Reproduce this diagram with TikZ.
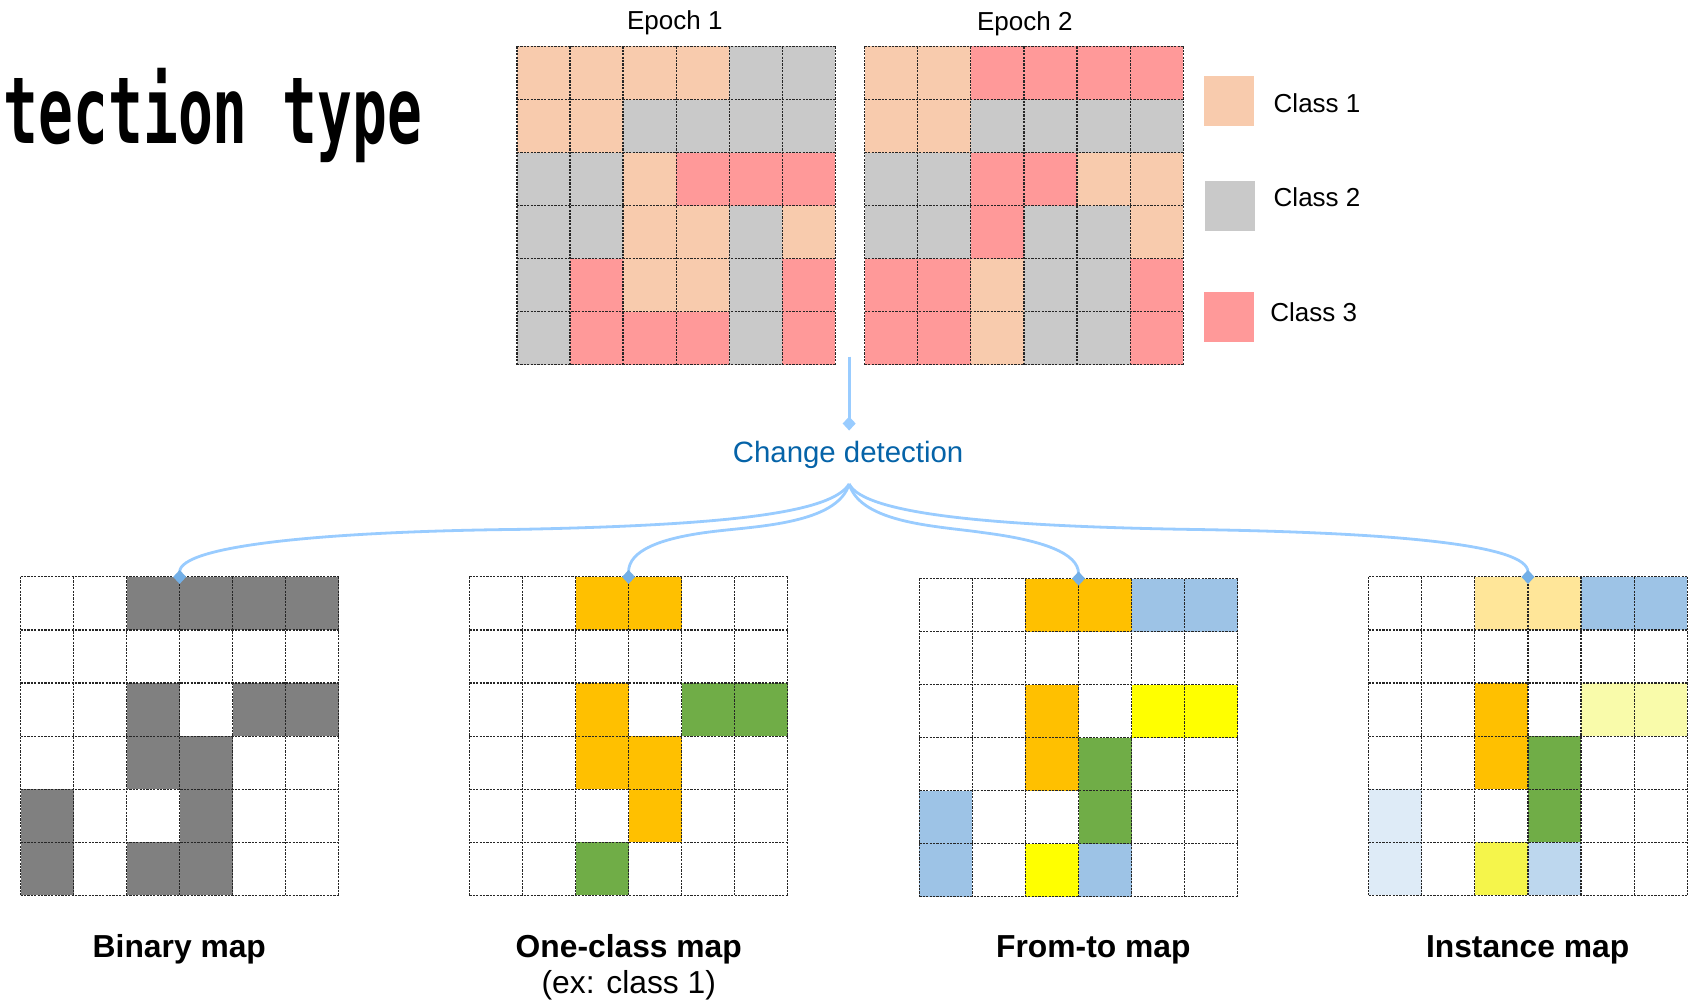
\documentclass[tikz,border=0pt]{standalone}
\usepackage{fontspec}
\usepackage{graphicx}
\setmainfont{Liberation Sans}
\newfontfamily\titlefont{DejaVu Sans Mono}
\usetikzlibrary{arrows.meta,calc}
\definecolor{cP}{RGB}{248,203,173}
\definecolor{cG}{RGB}{201,201,201}
\definecolor{cR}{RGB}{255,153,153}
\definecolor{cD}{RGB}{128,128,128}
\definecolor{cO}{RGB}{255,192,0}
\definecolor{cN}{RGB}{112,173,71}
\definecolor{cB}{RGB}{157,195,230}
\definecolor{cY}{RGB}{255,255,0}
\definecolor{cW}{RGB}{255,255,255}
\definecolor{cLO}{RGB}{255,230,153}
\definecolor{cLY}{RGB}{249,251,170}
\definecolor{cPB}{RGB}{222,235,247}
\definecolor{cYY}{RGB}{245,245,75}
\definecolor{cMB}{RGB}{189,215,238}
\definecolor{lineblue}{RGB}{153,204,255}
\definecolor{tipblue}{RGB}{115,175,230}
\definecolor{cdblue}{RGB}{5,99,168}
\def\cellsz{49.1}
\newcommand{\cellgrid}[4]{%
  \foreach \rowlist [count=\r from 0] in {#4} {
    \foreach \cc [count=\k from 0] in \rowlist {
      \fill[\cc] ({#2+\k*\cellsz},{#3+\r*\cellsz}) rectangle ++(\cellsz,\cellsz);
    }
  }
  \foreach \i in {0,...,6} {
    \draw[gl] ({#2+\i*\cellsz},#3) -- ++(0,{6*\cellsz});
    \draw[gl] (#2,{#3+\i*\cellsz}) -- ++({6*\cellsz},0);
  }
  \coordinate (#1) at ({#2+3*\cellsz},#3);
}
\tikzset{
  gl/.style={draw=black!85, line width=0.55pt, dash pattern=on 1.1pt off 0.6pt},
  conn/.style={draw=lineblue, line width=1.4pt},
  conntip/.style={-{Diamond[length=7pt,width=6.5pt,color=tipblue,fill=tipblue]}},
  small/.style={font=\fontsize{13}{15}\selectfont, inner sep=0},
  maplbl/.style={font=\bfseries\fontsize{15.9}{18}\selectfont, inner sep=0, anchor=base},
  legbox/.style={inner sep=0, minimum width=46.3*0.5402pt, minimum height=46.3*0.5402pt, anchor=north west}
}
\begin{document}
\begin{tikzpicture}[x=0.5402pt, y=-0.5402pt]
\useasboundingbox[fill=white] (0,0) rectangle (1568,927.5);

% title
\node[anchor=base east, inner sep=0] (title) at (391,133)
  {\scalebox{0.625}[1]{\titlefont\bfseries\fontsize{46.3}{50}\selectfont tection type}};

% epoch grids
\cellgrid{e1}{478.5}{43}{{cP,cP,cP,cP,cG,cG},{cP,cP,cG,cG,cG,cG},{cG,cG,cP,cR,cR,cR},{cG,cG,cP,cP,cG,cP},{cG,cR,cP,cP,cG,cR},{cG,cR,cR,cR,cG,cR}}
\cellgrid{e2}{800.5}{43}{{cP,cP,cR,cR,cR,cR},{cP,cP,cG,cG,cG,cG},{cG,cG,cR,cR,cP,cP},{cG,cG,cR,cG,cG,cP},{cR,cR,cP,cG,cG,cR},{cR,cR,cP,cG,cG,cR}}
\node[small, anchor=base] (ep1) at (624.6,27.2) {Epoch 1};
\node[small, anchor=base] (ep2) at (948.6,28.6) {Epoch 2};

% legend
\node[legbox, fill=cP] (lg1) at (1114.4,70) {};
\node[legbox, fill=cG] (lg2) at (1115.3,167.2) {};
\node[legbox, fill=cR] (lg3) at (1114.4,270) {};
\node[small, anchor=base west] (lt1) at (1178.6,103.9) {Class 1};
\node[small, anchor=base west] (lt2) at (1178.6,191.3) {Class 2};
\node[small, anchor=base west] (lt3) at (1175.5,297.7) {Class 3};

% change detection
\coordinate (vtop) at (786,330);
\coordinate (vend) at (786,398.5);
\draw[conn, -{Diamond[length=7pt,width=6.5pt,color=lineblue,fill=lineblue]}] (vtop) -- (vend);
\node[inner sep=0, anchor=base, text=cdblue, font=\fontsize{14.7}{17}\selectfont] (cd) at (785,428) {Change detection};
\coordinate (fork) at (786,448);

% result grids
\cellgrid{bin}{19}{534}{{cW,cW,cD,cD,cD,cD},{cW,cW,cW,cW,cW,cW},{cW,cW,cD,cW,cD,cD},{cW,cW,cD,cD,cW,cW},{cD,cW,cW,cD,cW,cW},{cD,cW,cD,cD,cW,cW}}
\cellgrid{one}{434.5}{534}{{cW,cW,cO,cO,cW,cW},{cW,cW,cW,cW,cW,cW},{cW,cW,cO,cW,cN,cN},{cW,cW,cO,cO,cW,cW},{cW,cW,cW,cO,cW,cW},{cW,cW,cN,cW,cW,cW}}
\cellgrid{ft}{851}{535.5}{{cW,cW,cO,cO,cB,cB},{cW,cW,cW,cW,cW,cW},{cW,cW,cO,cW,cY,cY},{cW,cW,cO,cN,cW,cW},{cB,cW,cW,cN,cW,cW},{cB,cW,cY,cB,cW,cW}}
\cellgrid{ins}{1267}{534}{{cW,cW,cLO,cLO,cB,cB},{cW,cW,cW,cW,cW,cW},{cW,cW,cO,cW,cLY,cLY},{cW,cW,cO,cN,cW,cW},{cPB,cW,cW,cN,cW,cW},{cPB,cW,cYY,cMB,cW,cW}}

% connectors
\draw[conn, conntip] (fork) .. controls (770,474) and (680,486) .. (480,490)
   .. controls (300,492) and (166.3,505) .. ($(bin)+(0,6.5)$);
\draw[conn, conntip] (fork) .. controls (775,485) and (700,487) .. (660,492)
   .. controls (610,498) and (581.8,510) .. ($(one)+(0,6.5)$);
\draw[conn, conntip] (fork) .. controls (797,485) and (870,487) .. (910,493)
   .. controls (965,500) and (998.3,512) .. ($(ft)+(0,6.5)$);
\draw[conn, conntip] (fork) .. controls (800,476) and (920,487) .. (1100,490)
   .. controls (1300,493) and (1414.3,505) .. ($(ins)+(0,6.5)$);

% labels
\node[maplbl] (l1) at (166,886) {Binary map};
\node[maplbl] (l2) at (582,886) {One-class map};
\node[inner sep=0, anchor=base, font=\fontsize{15.9}{18}\selectfont] (l2b) at (582,920) {(ex: class 1)};
\node[maplbl] (l3) at (1012,886) {From-to map};
\node[maplbl] (l4) at (1414,886) {Instance map};
\end{tikzpicture}
\end{document}
